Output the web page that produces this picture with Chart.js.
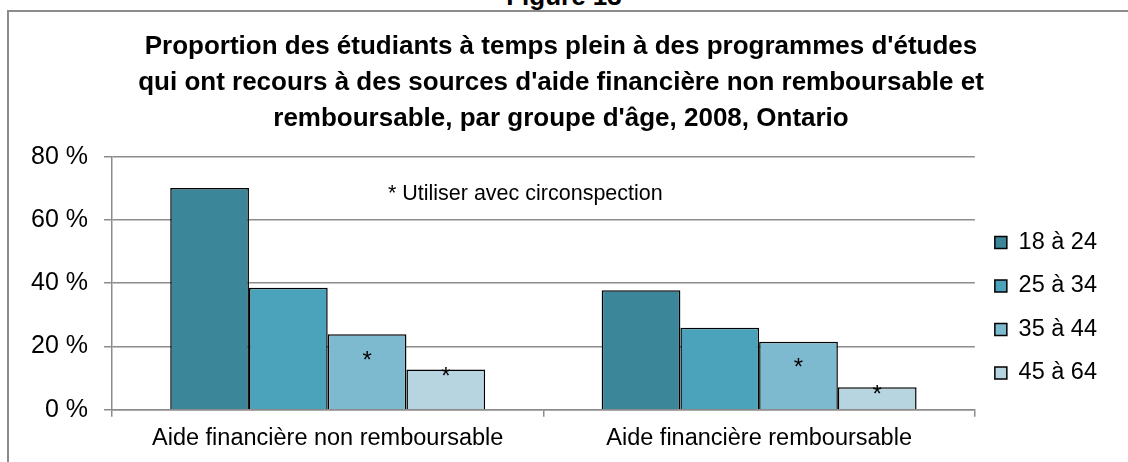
<!DOCTYPE html>
<html>
<head>
<meta charset="utf-8">
<script src="https://cdn.jsdelivr.net/npm/chart.js@4.4.1/dist/chart.umd.min.js"></script>
<style>
    body { margin: 0; background: #fff; font-family: "Liberation Sans", Arial, sans-serif; }
    #wrap { position: relative; width: 1128px; height: 462px; overflow: hidden; }
    #fig { position: absolute; left: 0; width: 1128px; top: -17px; line-height: 26px; text-align: center; font-weight: bold; font-size: 26px; }
    #frame { position: absolute; left: 7px; top: 10px; width: 1130px; height: 470px; border-left: 2px solid #8c8c8c; border-top: 2px solid #8c8c8c; }
    canvas { position: absolute; left: 0; top: 0; }
</style>
</head>
<body>
<div id="wrap">
    <div id="fig">Figure 13</div>
    <div id="frame"></div>
    <canvas id="bar_chart" width="1128" height="462"></canvas>
</div>
<script>
    // Data

    var categories = ["Aide financière non remboursable", "Aide financière remboursable"];
    var ageGroups = ["18 à 24", "25 à 34", "35 à 44", "45 à 64"];
    var age18to24 = [70.1, 37.8];
    var age25to34 = [38.6, 25.9];
    var age35to44 = [23.9, 21.5];
    var age45to64 = [12.7, 7.1];
    // groups whose values come with a "use with caution" asterisk
    var cautionFlags = [false, false, true, true];
    var yTicks = [0, 20, 40, 60, 80];

    var colors = ['#3b8799', '#4aa3bb', '#7ebacf', '#b6d5e0'];
    var seriesValues = [age18to24, age25to34, age35to44, age45to64];
    var font = '"Liberation Sans", Arial, sans-serif';

    var datasets = ageGroups.map(function(name, i) {
        return {
            label: name,
            data: seriesValues[i],
            backgroundColor: colors[i],
            borderColor: '#000',
            borderWidth: 1.5,
            categoryPercentage: 0.73,
            barPercentage: 1.0
        };
    });

    // asterisks on bars + caution note
    var cautionPlugin = {
        id: 'caution',
        afterDatasetsDraw: function(chart) {
            var ctx = chart.ctx;
            ctx.save();
            ctx.fillStyle = '#000';
            ctx.textAlign = 'center';
            ctx.textBaseline = 'middle';
            ctx.font = '24px ' + font;
            chart.data.datasets.forEach(function(ds, i) {
                if (!cautionFlags[i]) return;
                chart.getDatasetMeta(i).data.forEach(function(bar) {
                    var off = i === 2 ? 27 : 8;
                    ctx.fillText('*', bar.x, bar.y + off);
                });
            });
            var area = chart.chartArea;
            ctx.font = '21.5px ' + font;
            ctx.fillText('* Utiliser avec circonspection', area.left + (area.right - area.left) * 0.479, chart.scales.y.getPixelForValue(68.3));
            ctx.restore();
        }
    };

    var ctx = document.getElementById("bar_chart").getContext("2d");
    new Chart(ctx, {
        type: 'bar',
        data: { labels: categories, datasets: datasets },
        options: {
            responsive: false,
            animation: false,
            layout: { padding: { left: 15, right: 21, bottom: 1 } },
            plugins: {
                title: {
                    display: true,
                    text: [
                        "Proportion des étudiants à temps plein à des programmes d'études",
                        "qui ont recours à des sources d'aide financière non remboursable et",
                        "remboursable, par groupe d'âge, 2008, Ontario"
                    ],
                    color: '#000',
                    font: { family: font, size: 26, weight: 'bold', lineHeight: 1.38 },
                    padding: { top: 29, bottom: 20 }
                },
                legend: {
                    position: 'right',
                    title: { display: true, text: ' ', padding: { top: 140, bottom: 0 } },
                    labels: {
                        color: '#000',
                        font: { family: font, size: 23.5 },
                        boxWidth: 12,
                        boxHeight: 12,
                        padding: 20
                    }
                },
                tooltip: { enabled: false }
            },
            scales: {
                x: {
                    offset: true,
                    grid: { display: true, drawOnChartArea: false, offset: true, color: '#8c8c8c', lineWidth: 1.5, tickLength: 7 },
                    border: { color: '#8c8c8c', width: 1.5 },
                    ticks: { color: '#000', padding: 8, font: { family: font, size: 23.5 } }
                },
                y: {
                    min: 0,
                    max: 80,
                    afterBuildTicks: function(axis) {
                        axis.ticks = yTicks.map(function(v) { return { value: v }; });
                    },
                    grid: { color: '#8c8c8c', lineWidth: 1.5, tickLength: 8 },
                    border: { color: '#8c8c8c', width: 1.5 },
                    ticks: {
                        color: '#000',
                        padding: 16,
                        font: { family: font, size: 25 },
                        callback: function(v) { return v + ' %'; }
                    }
                }
            }
        },
        plugins: [cautionPlugin]
    });
</script>
</body>
</html>
